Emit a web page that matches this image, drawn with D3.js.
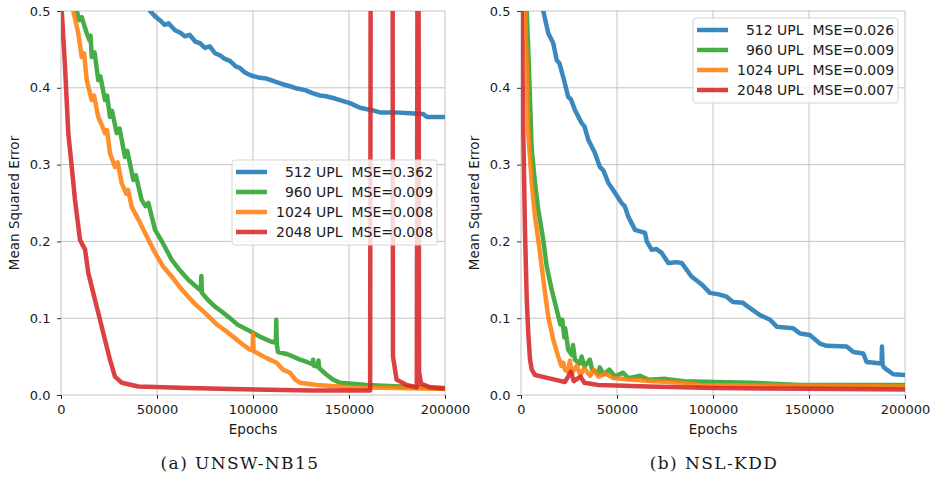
<!DOCTYPE html>
<html>
<head>
<meta charset="utf-8">
<script src="https://cdnjs.cloudflare.com/ajax/libs/d3/7.8.5/d3.min.js"></script>
<style>
  body { margin: 0; background: #fff; }
  text { font-family: "DejaVu Sans", sans-serif; fill: #1a1a1a; }
  .legend text { white-space: pre; }
</style>
</head>
<body>
<svg id="chart" width="935" height="479"></svg>
<script>
// series names and colours (matplotlib tab10)
var seriesNames = ["512 UPL", "960 UPL", "1024 UPL", "2048 UPL"];
var seriesColors = ["#1f77b4", "#2ca02c", "#ff7f0e", "#d62728"];

// final MSE values shown in the legends
var unswMse = ["0.362", "0.009", "0.008", "0.008"];
var nslMse = ["0.026", "0.009", "0.009", "0.007"];

var xTicks = [0, 50000, 100000, 150000, 200000];
var yTicks = [0.0, 0.1, 0.2, 0.3, 0.4, 0.5];

// (a) UNSW-NB15 : [epoch, mse]
var unsw512 = [[40000,0.53],[46400,0.5],[49000,0.493],[51500,0.488],[54000,0.482],[56000,0.484],[59400,0.475],
  [62000,0.472],[64600,0.467],[67000,0.469],[70000,0.46],[72400,0.458],[75000,0.452],[77500,0.454],[80200,0.445],
  [83000,0.442],[85000,0.438],[88000,0.435],[91000,0.428],[93000,0.426],[95800,0.42],[99000,0.416],[103600,0.413],
  [107000,0.412],[111500,0.408],[115000,0.405],[119300,0.402],[123000,0.399],[127100,0.397],[131000,0.393],
  [134900,0.39],[138000,0.389],[142700,0.386],[145300,0.384],[150500,0.38],[155700,0.374],[159400,0.372],
  [162000,0.371],[166100,0.368],[174000,0.368],[181800,0.367],[188500,0.366],[190600,0.362],[200000,0.362]];

var unsw960 = [[6000,0.56],[8200,0.5],[9500,0.488],[10800,0.492],[13400,0.471],[14800,0.462],[15400,0.468],
  [16000,0.44],[17500,0.446],[19400,0.41],[20500,0.415],[22900,0.384],[24000,0.39],[25500,0.362],[26600,0.37],
  [29000,0.341],[30500,0.347],[33300,0.31],[34500,0.318],[37700,0.28],[39000,0.286],[42000,0.254],[44000,0.246],
  [45500,0.25],[49000,0.215],[53000,0.198],[57700,0.176],[62000,0.162],[66300,0.15],[70000,0.142],[72800,0.136],
  [73100,0.155],[73400,0.133],[76500,0.124],[80200,0.115],[84000,0.108],[87100,0.102],[92300,0.091],[99300,0.082],
  [103600,0.076],[108900,0.07],[111900,0.068],[112100,0.098],[112400,0.066],[113000,0.056],[118000,0.053],
  [124500,0.046],[128000,0.043],[131000,0.04],[131300,0.046],[131700,0.038],[133800,0.037],[134100,0.045],
  [134500,0.035],[138000,0.027],[141700,0.02],[145300,0.016],[159200,0.013],[176600,0.011],[200000,0.009]];

var unsw1024 = [[4500,0.56],[6400,0.5],[9000,0.471],[10800,0.44],[12000,0.445],[13400,0.41],[16000,0.384],
  [17200,0.39],[19400,0.362],[21500,0.35],[22900,0.341],[24000,0.345],[25500,0.315],[28100,0.297],[29500,0.303],
  [31600,0.276],[34000,0.262],[35000,0.267],[36800,0.245],[40000,0.23],[43800,0.211],[46000,0.2],[49000,0.185],
  [53000,0.168],[57700,0.154],[62000,0.14],[66300,0.128],[70000,0.118],[75000,0.107],[81100,0.092],[85000,0.085],
  [89600,0.076],[94000,0.067],[98400,0.059],[99800,0.058],[100000,0.08],[100300,0.057],[101900,0.055],
  [107100,0.048],[112300,0.042],[115600,0.033],[119300,0.029],[122000,0.02],[124500,0.016],[133200,0.013],
  [150500,0.01],[175000,0.009],[193700,0.008],[200000,0.008]];

var unsw2048 = [[0,0.56],[400,0.5],[2100,0.427],[3800,0.341],[5600,0.297],[7300,0.254],[9900,0.202],[11300,0.195],
  [12500,0.19],[14200,0.159],[16800,0.133],[19400,0.107],[22900,0.072],[25500,0.046],[28100,0.024],[31600,0.016],
  [40300,0.011],[66100,0.009],[101000,0.007],[130000,0.006],[161000,0.006],[161300,0.6],[172700,0.6],
  [172900,0.05],[174800,0.02],[180000,0.013],[185300,0.01],[185700,0.6],[186200,0.6],[186500,0.03],
  [187500,0.015],[192200,0.01],[200000,0.008]];

// (b) NSL-KDD : [epoch, mse]
var nsl512 = [[9000,0.54],[11600,0.5],[14200,0.471],[16800,0.458],[18600,0.436],[20000,0.432],[22000,0.414],
  [24600,0.388],[26000,0.385],[28100,0.371],[31600,0.354],[33000,0.35],[35100,0.332],[38500,0.315],[41100,0.297],
  [43000,0.292],[45500,0.276],[49000,0.263],[52400,0.25],[54000,0.246],[55900,0.232],[59400,0.215],[64600,0.211],
  [65500,0.2],[68100,0.189],[70500,0.19],[73300,0.185],[76700,0.172],[81000,0.173],[83700,0.172],[88900,0.154],
  [91000,0.15],[94100,0.144],[98400,0.133],[103000,0.131],[107100,0.128],[110400,0.121],[115600,0.12],
  [119300,0.113],[124500,0.104],[129700,0.098],[133200,0.089],[141700,0.087],[145300,0.08],[150500,0.078],
  [155700,0.067],[159200,0.064],[169600,0.063],[173100,0.056],[178300,0.054],[180000,0.043],[187800,0.041],
  [188000,0.063],[188300,0.04],[189000,0.036],[190500,0.033],[193900,0.027],[200000,0.026]];

var nsl960 = [[2000,0.6],[3000,0.5],[3800,0.449],[4700,0.384],[5600,0.319],[7300,0.276],[9000,0.241],
  [11600,0.202],[13400,0.167],[16000,0.137],[18600,0.111],[20500,0.092],[21500,0.098],[22600,0.075],[23000,0.087],
  [24600,0.059],[26500,0.052],[27100,0.065],[28100,0.046],[30500,0.041],[31600,0.05],[33000,0.037],[35900,0.046],
  [37000,0.033],[40300,0.028],[41000,0.036],[43000,0.027],[46000,0.033],[49000,0.024],[53000,0.029],[56000,0.022],
  [62000,0.025],[66300,0.02],[75000,0.021],[85000,0.018],[101000,0.017],[120000,0.016],[145300,0.013],
  [170000,0.013],[200000,0.013]];

var nsl1024 = [[1500,0.6],[2100,0.5],[3000,0.427],[3800,0.341],[5600,0.276],[7300,0.232],[9000,0.202],
  [10800,0.167],[12500,0.133],[14200,0.102],[16800,0.072],[19400,0.05],[21000,0.038],[22000,0.042],[22900,0.033],
  [24500,0.03],[25500,0.045],[26400,0.028],[29000,0.038],[31000,0.026],[33000,0.035],[36000,0.025],[38000,0.033],
  [40300,0.024],[44000,0.028],[48000,0.022],[57700,0.02],[70000,0.018],[83700,0.016],[93200,0.013],
  [150000,0.012],[200000,0.011]];

var nsl2048 = [[0,0.6],[400,0.5],[1200,0.341],[2100,0.211],[3000,0.124],[3800,0.08],[4700,0.046],[5600,0.033],
  [7300,0.026],[14200,0.022],[22900,0.017],[26000,0.03],[27500,0.018],[31000,0.024],[33000,0.016],[40300,0.013],
  [66300,0.011],[101000,0.009],[150000,0.008],[200000,0.007]];

var panels = [
  { left: 61, series: [unsw512, unsw960, unsw1024, unsw2048], mse: unswMse,
    caption: "(a) UNSW-NB15", captionX: 240, legendX: 232, legendY: 160 },
  { left: 521, series: [nsl512, nsl960, nsl1024, nsl2048], mse: nslMse,
    caption: "(b) NSL-KDD", captionX: 714, legendX: 693, legendY: 18 }
];

var plotTop = 11, plotW = 384, plotH = 384;
var svg = d3.select("#chart");
svg.append("rect").attr("width", 935).attr("height", 479).attr("fill", "#fff");

// two spaces in front of the 3-digit unit counts, like the original labels
var pad3 = function (s) { return s.length < 8 ? "  " + s : s; };

panels.forEach(function (p, pi) {
  var x = d3.scaleLinear().domain([0, 200000]).range([0, plotW]);
  var y = d3.scaleLinear().domain([0, 0.5]).range([plotH, 0]);

  var g = svg.append("g").attr("transform", "translate(" + p.left + "," + plotTop + ")");

  // grid
  g.append("g").selectAll("line").data(xTicks).join("line")
    .attr("x1", function (d) { return x(d); }).attr("x2", function (d) { return x(d); })
    .attr("y1", 0).attr("y2", plotH)
    .attr("stroke", "#c4c4c4").attr("stroke-width", 1);
  g.append("g").selectAll("line").data(yTicks).join("line")
    .attr("y1", function (d) { return y(d); }).attr("y2", function (d) { return y(d); })
    .attr("x1", 0).attr("x2", plotW)
    .attr("stroke", "#c4c4c4").attr("stroke-width", 1);

  // axes
  var xAxis = d3.axisBottom(x).tickValues(xTicks).tickFormat(d3.format("d")).tickSize(4).tickPadding(6);
  var yAxis = d3.axisLeft(y).tickValues(yTicks).tickFormat(d3.format(".1f")).tickSize(4).tickPadding(6.5);
  var ax = g.append("g").attr("transform", "translate(0," + plotH + ")").call(xAxis);
  var ay = g.append("g").call(yAxis);
  [ax, ay].forEach(function (a) {
    a.select(".domain").remove();
    a.selectAll(".tick line").attr("stroke", "#333");
    a.selectAll(".tick text").attr("font-size", 13).attr("font-family", "DejaVu Sans").attr("fill", "#1a1a1a");
  });

  // lines
  var clipId = "clip" + pi;
  g.append("clipPath").attr("id", clipId).append("rect")
    .attr("x", 0).attr("y", 0).attr("width", plotW).attr("height", plotH);
  var line = d3.line().x(function (d) { return x(d[0]); }).y(function (d) { return y(d[1]); });
  g.append("g").attr("clip-path", "url(#" + clipId + ")")
    .selectAll("path").data(p.series).join("path")
    .attr("d", line)
    .attr("fill", "none")
    .attr("stroke", function (d, i) { return seriesColors[i]; })
    .attr("stroke-opacity", 0.88)
    .attr("stroke-width", 4.5)
    .attr("stroke-linejoin", "round");

  // axis titles
  g.append("text").attr("x", plotW / 2).attr("y", plotH + 39)
    .attr("text-anchor", "middle").attr("font-size", 13.5).text("Epochs");
  g.append("text").attr("transform", "translate(-42," + (plotH / 2) + ") rotate(-90)")
    .attr("text-anchor", "middle").attr("font-size", 13.5).text("Mean Squared Error");

  // caption
  svg.append("text").attr("x", p.captionX).attr("y", 469)
    .attr("text-anchor", "middle").attr("font-size", 17)
    .style("letter-spacing", "1.4px")
    .style("font-family", "'DejaVu Serif', serif").text(p.caption);

  // legend
  var lg = svg.append("g").attr("class", "legend")
    .attr("transform", "translate(" + p.legendX + "," + p.legendY + ")");
  lg.append("rect").attr("width", 205).attr("height", 85).attr("rx", 3)
    .attr("fill", "#fff").attr("fill-opacity", 0.8)
    .attr("stroke", "#d5d5d5").attr("stroke-width", 1);
  seriesNames.forEach(function (name, i) {
    var cy = 12 + i * 20;
    lg.append("line").attr("x1", 4).attr("x2", 35).attr("y1", cy).attr("y2", cy)
      .attr("stroke", seriesColors[i]).attr("stroke-opacity", 0.88).attr("stroke-width", 4.5);
    lg.append("text").attr("x", 44).attr("y", cy + 5).attr("font-size", 14)
      .text(pad3(name) + "  MSE=" + p.mse[i]);
  });
});
</script>
</body>
</html>
